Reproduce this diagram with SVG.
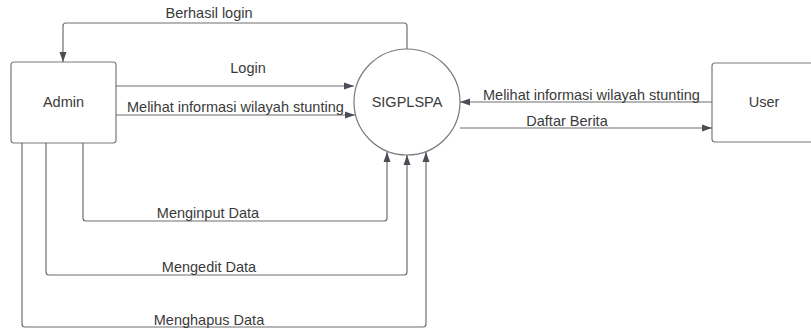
<svg xmlns="http://www.w3.org/2000/svg" width="811" height="328" viewBox="0 0 811 328">
<defs>
<marker id="arr" viewBox="0 0 10 10" refX="10" refY="5" markerWidth="10" markerHeight="10" markerUnits="userSpaceOnUse" orient="auto">
<path d="M0,1.5 L10,5 L0,8.5 Z" fill="#4a4d55"/>
</marker>
</defs>
<style>
.node{fill:#fff;stroke:#7a7a7a;stroke-width:1.2}
.lbl{font-family:"Liberation Sans",Arial,sans-serif;font-size:14.5px;fill:#3a3a3a}
.c{fill:none;stroke:#6e6e6e;stroke-width:1.2;marker-end:url(#arr)}
</style>
<rect width="811" height="328" fill="#fff"/>
<g id="admin"><rect class="node" x="11" y="62" width="105" height="81" rx="3"/><text class="lbl" x="63.5" y="107" text-anchor="middle">Admin</text></g>
<g id="sigplspa"><circle class="node" cx="407" cy="102" r="53"/><text class="lbl" x="407" y="107" text-anchor="middle">SIGPLSPA</text></g>
<g id="user"><rect class="node" x="712" y="63" width="105" height="79" rx="3"/><text class="lbl" x="764" y="107" text-anchor="middle">User</text></g>
<g id="connectors">
<path class="c" d="M407,49 V26 Q407,23 404,23 H66 Q63,23 63,26 V62"/>
<path class="c" d="M116,86 H354"/>
<path class="c" d="M116,115 H355"/>
<path class="c" d="M712,102 H460"/>
<path class="c" d="M460,128 H712"/>
<path class="c" d="M83,143 V218 Q83,221 86,221 H384 Q387,221 387,218 V152"/>
<path class="c" d="M46,143 V272 Q46,275 49,275 H404 Q407,275 407,272 V155"/>
<path class="c" d="M22,143 V324 Q22,327 25,327 H423 Q426,327 426,324 V152"/>
</g>
<g id="labels">
<text class="lbl" x="209" y="18" text-anchor="middle">Berhasil login</text>
<text class="lbl" x="248" y="73" text-anchor="middle">Login</text>
<text class="lbl" x="127" y="112">Melihat informasi wilayah stunting</text>
<text class="lbl" x="483" y="100">Melihat informasi wilayah stunting</text>
<text class="lbl" x="567" y="126" text-anchor="middle">Daftar Berita</text>
<text class="lbl" x="208" y="218" text-anchor="middle">Menginput Data</text>
<text class="lbl" x="209" y="272" text-anchor="middle">Mengedit Data</text>
<text class="lbl" x="209" y="325" text-anchor="middle">Menghapus Data</text>
</g>
</svg>
